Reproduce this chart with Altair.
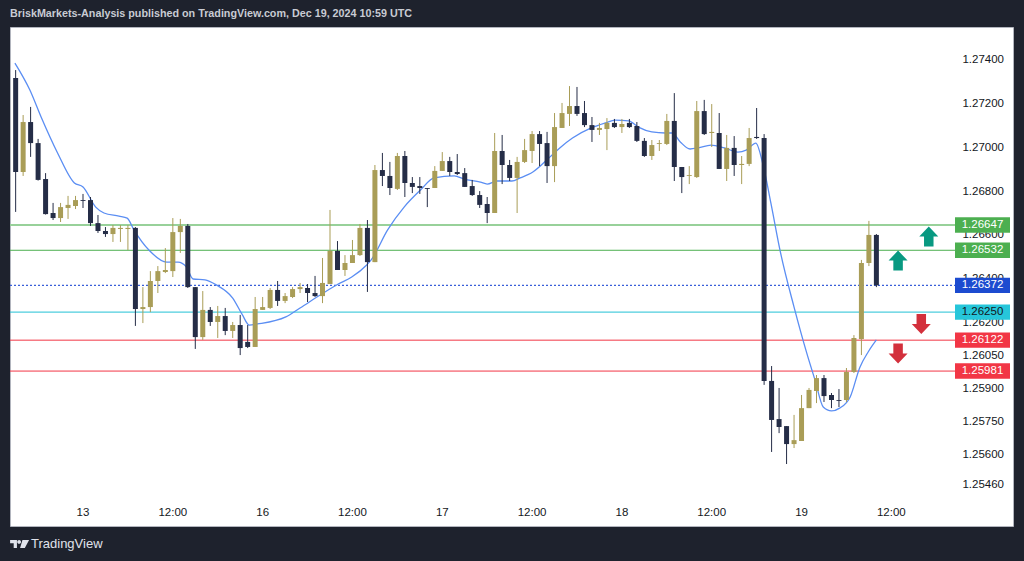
import altair as alt
import pandas as pd

# ---------------- data ----------------
first_bar = -9  # index of the left-most (partial) hourly candle; 0 = "13"

opens = [1.27318, 1.26889, 1.27117, 1.27021, 1.26857, 1.26702, 1.26679, 1.26725, 1.26734,
         1.26761, 1.26761, 1.26656, 1.26620, 1.26606, 1.26629, 1.26629, 1.26634, 1.26264, 1.26273,
         1.26392, 1.26433, 1.26437, 1.26615, 1.26643, 1.26364, 1.26136, 1.26260, 1.26205, 1.26232,
         1.26164, 1.26191, 1.26114, 1.26091, 1.26260, 1.26269, 1.26351, 1.26301, 1.26319, 1.26355,
         1.26360, 1.26337, 1.26323, 1.26378, 1.26529, 1.26442, 1.26474, 1.26510, 1.26634, 1.26478,
         1.26898, 1.26871, 1.26812, 1.26962, 1.26839, 1.26825, 1.26816, 1.26816, 1.26894, 1.26939,
         1.26889, 1.26884, 1.26825, 1.26784, 1.26743, 1.26702, 1.26985, 1.26921, 1.26862, 1.26935,
         1.26985, 1.27062, 1.27021, 1.26916, 1.27090, 1.27154, 1.27190, 1.27158, 1.27103, 1.27081,
         1.27085, 1.27113, 1.27094, 1.27113, 1.27099, 1.27031, 1.26962, 1.27017, 1.27017, 1.27122,
         1.26912, 1.26871, 1.26866, 1.27167, 1.27067, 1.27067, 1.26903, 1.26999, 1.26921, 1.26926,
         1.27049, 1.27044, 1.25936, 1.25762, 1.25730, 1.25648, 1.25662, 1.25812, 1.25890, 1.25949,
         1.25872, 1.25849, 1.25849, 1.25977, 1.26127, 1.26474, 1.26602]
highs = [1.27354, 1.27149, 1.27186, 1.27040, 1.26884, 1.26748, 1.26748, 1.26780, 1.26780,
         1.26789, 1.26775, 1.26693, 1.26638, 1.26647, 1.26647, 1.26647, 1.26638, 1.26364, 1.26437,
         1.26460, 1.26542, 1.26679, 1.26675, 1.26652, 1.26364, 1.26346, 1.26273, 1.26278, 1.26269,
         1.26205, 1.26237, 1.26191, 1.26319, 1.26319, 1.26360, 1.26392, 1.26337, 1.26364, 1.26383,
         1.26378, 1.26415, 1.26497, 1.26716, 1.26574, 1.26510, 1.26579, 1.26652, 1.26670, 1.26921,
         1.26976, 1.26935, 1.26976, 1.26985, 1.26866, 1.26866, 1.26816, 1.26916, 1.26980, 1.26958,
         1.26971, 1.26907, 1.26853, 1.26802, 1.26775, 1.27067, 1.27058, 1.26944, 1.26958, 1.27040,
         1.27076, 1.27076, 1.27072, 1.27158, 1.27204, 1.27281, 1.27277, 1.27213, 1.27140, 1.27113,
         1.27135, 1.27131, 1.27131, 1.27131, 1.27117, 1.27044, 1.27035, 1.27035, 1.27154, 1.27249,
         1.26912, 1.26916, 1.27213, 1.27218, 1.27199, 1.27158, 1.27058, 1.27053, 1.26962, 1.27090,
         1.27181, 1.27062, 1.26004, 1.25904, 1.25730, 1.25781, 1.25872, 1.25904, 1.25963, 1.25963,
         1.25881, 1.25899, 1.25995, 1.26145, 1.26488, 1.26666, 1.26606]
lows = [1.26707, 1.26871, 1.26958, 1.26850, 1.26695, 1.26670, 1.26661, 1.26675, 1.26720,
        1.26725, 1.26643, 1.26611, 1.26593, 1.26570, 1.26570, 1.26533, 1.26187, 1.26200, 1.26250,
        1.26337, 1.26428, 1.26410, 1.26520, 1.26360, 1.26082, 1.26123, 1.26187, 1.26132, 1.26145,
        1.26132, 1.26054, 1.26086, 1.26091, 1.26260, 1.26264, 1.26278, 1.26291, 1.26314, 1.26337,
        1.26296, 1.26319, 1.26291, 1.26378, 1.26442, 1.26415, 1.26474, 1.26506, 1.26342, 1.26478,
        1.26825, 1.26784, 1.26807, 1.26775, 1.26793, 1.26789, 1.26729, 1.26816, 1.26894, 1.26871,
        1.26875, 1.26821, 1.26780, 1.26725, 1.26656, 1.26702, 1.26834, 1.26848, 1.26702, 1.26930,
        1.26930, 1.26916, 1.26839, 1.26843, 1.27090, 1.27099, 1.27145, 1.27094, 1.27026, 1.27058,
        1.26989, 1.27090, 1.27067, 1.27090, 1.27026, 1.26958, 1.26944, 1.26985, 1.27012, 1.26848,
        1.26793, 1.26834, 1.26862, 1.27058, 1.27003, 1.26903, 1.26848, 1.26871, 1.26834, 1.26916,
        1.27040, 1.25918, 1.25612, 1.25698, 1.25557, 1.25630, 1.25662, 1.25812, 1.25835, 1.25840,
        1.25812, 1.25817, 1.25840, 1.25972, 1.26054, 1.26460, 1.26364]
closes = [1.26889, 1.27117, 1.27021, 1.26853, 1.26697, 1.26679, 1.26729, 1.26739, 1.26761,
          1.26757, 1.26656, 1.26620, 1.26606, 1.26634, 1.26634, 1.26634, 1.26264, 1.26273, 1.26392,
          1.26437, 1.26442, 1.26615, 1.26643, 1.26364, 1.26136, 1.26260, 1.26205, 1.26232, 1.26164,
          1.26191, 1.26086, 1.26091, 1.26264, 1.26273, 1.26351, 1.26301, 1.26323, 1.26355, 1.26364,
          1.26337, 1.26323, 1.26383, 1.26529, 1.26442, 1.26474, 1.26510, 1.26634, 1.26478, 1.26898,
          1.26871, 1.26816, 1.26962, 1.26839, 1.26821, 1.26816, 1.26812, 1.26894, 1.26939, 1.26889,
          1.26880, 1.26821, 1.26784, 1.26739, 1.26702, 1.26985, 1.26921, 1.26862, 1.26935, 1.26989,
          1.27062, 1.27017, 1.26916, 1.27094, 1.27158, 1.27190, 1.27154, 1.27103, 1.27081, 1.27090,
          1.27113, 1.27094, 1.27108, 1.27094, 1.27031, 1.26962, 1.27012, 1.27021, 1.27122, 1.26912,
          1.26866, 1.26875, 1.27167, 1.27062, 1.27072, 1.26903, 1.26999, 1.26921, 1.26926, 1.27044,
          1.27044, 1.25936, 1.25758, 1.25726, 1.25648, 1.25666, 1.25812, 1.25895, 1.25949, 1.25867,
          1.25849, 1.25845, 1.25977, 1.26132, 1.26474, 1.26602, 1.26372]

# moving average (blue line), read at bar positions
ma_index = [-9.1, -7.1, -5.6, -3.4, -1.15, 0, 1.7, 2.8, 4.8, 5.9, 6.8, 8.8, 11.2, 12.7, 13.8,
            14.7, 16.3, 17.8, 20, 21.3, 22.2, 23.3, 27.1, 29, 32.1, 34.1, 35.9, 37.9, 38.5,
            40.7, 42.9, 45.1, 46.9, 49.6, 50.9, 53.1, 54, 55.3, 57.3, 58.4, 60.1, 62.4, 63.7,
            65.4, 67.9, 69.8, 71.1, 72.9, 74.2, 76, 77.8, 78.7, 79.8, 81.1, 82.2, 83.9, 85.7,
            87.5, 88.6, 89.9, 90.8, 91.9, 93.2, 95, 96.7, 97.8, 98.9, 100, 101.1, 102.5, 103.8,
            104.9, 106]
ma_price = [1.27386, 1.27263, 1.27140, 1.26976, 1.26839, 1.26821, 1.26729, 1.26702, 1.26688,
            1.26679, 1.26625, 1.26533, 1.26478, 1.26478, 1.26456, 1.26401, 1.26397, 1.26374,
            1.26314, 1.26237, 1.26191, 1.26196, 1.26228, 1.26269, 1.26337, 1.26378, 1.26410,
            1.26465, 1.26488, 1.26625, 1.26729, 1.26807, 1.26862, 1.26871, 1.26857, 1.26843,
            1.26834, 1.26848, 1.26848, 1.26862, 1.26889, 1.26958, 1.26999, 1.27044, 1.27090,
            1.27113, 1.27126, 1.27122, 1.27094, 1.27072, 1.27067, 1.27067, 1.27026, 1.26994,
            1.26999, 1.27012, 1.26999, 1.26980, 1.26989, 1.27021, 1.26930, 1.26748, 1.26520,
            1.26273, 1.26063, 1.25940, 1.25817, 1.25799, 1.25812, 1.25863, 1.25999, 1.26068,
            1.26123]

level_prices = [1.26647, 1.26532, 1.26372, 1.26250, 1.26122, 1.25981]
level_line_colors = ["#98d19a", "#4caf50", "#3a5fd9", "#22c1d6", "#f23645", "#f23645"]
level_line_widths = [2, 1, 1.2, 1, 1, 1]
level_dotted = [False, False, True, False, False, False]
level_box_colors = ["#4caf50", "#4caf50", "#1c4bd0", "#26c6da", "#f23645", "#f23645"]
level_text_colors = ["#ffffff", "#ffffff", "#ffffff", "#131722", "#ffffff", "#ffffff"]

price_ticks = [1.27400, 1.27200, 1.27000, 1.26800, 1.26600, 1.26400, 1.26200, 1.26050,
               1.25900, 1.25750, 1.25600, 1.25460]
time_tick_index = [0, 12, 24, 36, 48, 60, 72, 84, 96, 108]
time_tick_labels = ["13", "12:00", "16", "12:00", "17", "12:00", "18", "12:00", "19", "12:00"]

arrow_index = [113.0, 108.9, 112.0, 108.9]
arrow_price = [1.26593, 1.26483, 1.26198, 1.26063]
arrow_dir = ["up", "up", "down", "down"]

title_text = "BriskMarkets-Analysis published on TradingView.com, Dec 19, 2024 10:59 UTC"

# ---------------- chart ----------------
W, H = 1003, 499
X_DOM = [-9.087, 123.585]
Y_DOM = [1.252743, 1.275505]
xs = alt.Scale(domain=X_DOM, nice=False, zero=False)
ys = alt.Scale(domain=Y_DOM, nice=False, zero=False)

UP = "#a99d57"
DOWN = "#252d47"

candles = pd.DataFrame({
    "i": list(range(first_bar, first_bar + len(opens))),
    "open": opens, "high": highs, "low": lows, "close": closes,
})
candles["col"] = [UP if c > o else DOWN for o, c in zip(opens, closes)]

base = alt.Chart(candles)
wicks = base.mark_rule(strokeWidth=1, clip=True).encode(
    x=alt.X("i:Q", scale=xs, axis=None),
    y=alt.Y("low:Q", scale=ys, axis=None),
    y2="high:Q",
    color=alt.Color("col:N", scale=None),
)
bodies = base.mark_bar(size=5, clip=True).encode(
    x=alt.X("i:Q", scale=xs, axis=None),
    y=alt.Y("open:Q", scale=ys, axis=None),
    y2="close:Q",
    color=alt.Color("col:N", scale=None),
)

ma_df = pd.DataFrame({"i": ma_index, "p": ma_price})
ma_line = alt.Chart(ma_df).mark_line(color="#5b8ef3", strokeWidth=1.3, clip=True,
                                     interpolate="monotone").encode(
    x=alt.X("i:Q", scale=xs, axis=None),
    y=alt.Y("p:Q", scale=ys, axis=None),
)

lv = pd.DataFrame({"p": level_prices, "lc": level_line_colors, "w": level_line_widths,
                   "dot": level_dotted, "bc": level_box_colors, "tc": level_text_colors})
solid_lines = alt.Chart(lv[~lv["dot"]]).mark_rule().encode(
    y=alt.Y("p:Q", scale=ys, axis=None),
    x=alt.value(0), x2=alt.value(945),
    color=alt.Color("lc:N", scale=None),
    strokeWidth=alt.StrokeWidth("w:Q", scale=None),
)
dotted_lines = alt.Chart(lv[lv["dot"]]).mark_rule(strokeDash=[2, 2]).encode(
    y=alt.Y("p:Q", scale=ys, axis=None),
    x=alt.value(0), x2=alt.value(945),
    color=alt.Color("lc:N", scale=None),
    strokeWidth=alt.StrokeWidth("w:Q", scale=None),
)

ticks_df = pd.DataFrame({"p": price_ticks})
price_labels = alt.Chart(ticks_df).mark_text(align="right", baseline="middle", fontSize=11.5,
                                             font="Liberation Sans", color="#131722").encode(
    y=alt.Y("p:Q", scale=ys, axis=None),
    x=alt.value(994),
    text=alt.Text("p:Q", format=".5f"),
)

time_df = pd.DataFrame({"i": time_tick_index, "t": time_tick_labels})
time_labels = alt.Chart(time_df).mark_text(align="center", baseline="middle", fontSize=11.5,
                                           font="Liberation Sans", color="#131722").encode(
    x=alt.X("i:Q", scale=xs, axis=None),
    y=alt.value(486),
    text="t:N",
)

box_shape = "M-1,-0.28H1V0.28H-1Z"
boxes = alt.Chart(lv).mark_point(shape=box_shape, size=3025, filled=True, opacity=1,
                                 strokeWidth=0).encode(
    y=alt.Y("p:Q", scale=ys, axis=None),
    x=alt.value(972.5),
    color=alt.Color("bc:N", scale=None),
)
box_text = alt.Chart(lv).mark_text(align="center", baseline="middle", fontSize=11.5,
                                   font="Liberation Sans").encode(
    y=alt.Y("p:Q", scale=ys, axis=None),
    x=alt.value(972.5),
    text=alt.Text("p:Q", format=".5f"),
    color=alt.Color("tc:N", scale=None),
)

up_shape = "M0,-1.1L1,-0.05L0.5,-0.05L0.5,1L-0.5,1L-0.5,-0.05L-1,-0.05Z"
down_shape = "M0,1.1L1,0.05L0.5,0.05L0.5,-1L-0.5,-1L-0.5,0.05L-1,0.05Z"
ar = pd.DataFrame({"i": arrow_index, "p": arrow_price, "d": arrow_dir})
up_arrows = alt.Chart(ar[ar["d"] == "up"]).mark_point(
    shape=up_shape, size=361, filled=True, opacity=1, color="#089981", strokeWidth=0).encode(
    x=alt.X("i:Q", scale=xs, axis=None), y=alt.Y("p:Q", scale=ys, axis=None))
down_arrows = alt.Chart(ar[ar["d"] == "down"]).mark_point(
    shape=down_shape, size=361, filled=True, opacity=1, color="#d3303c", strokeWidth=0).encode(
    x=alt.X("i:Q", scale=xs, axis=None), y=alt.Y("p:Q", scale=ys, axis=None))

title = alt.Chart(pd.DataFrame({"t": [title_text]})).mark_text(
    align="left", baseline="middle", fontSize=10.75, fontWeight="bold",
    font="Liberation Sans", color="#c8cbd3").encode(
    x=alt.value(0), y=alt.value(-13), text="t:N")

logo_shape = ("M-1,-0.42L-0.28,-0.42L-0.28,0.42L-0.62,0.42L-0.62,-0.08L-1,-0.08Z "
              "M-0.25,-0.22A0.2,0.2 0 1,0 0.15,-0.22A0.2,0.2 0 1,0 -0.25,-0.22Z "
              "M0.3,-0.42L1,-0.42L0.55,0.42L0.05,0.42Z")
logo = alt.Chart(pd.DataFrame({"t": ["TradingView"]})).mark_point(
    shape=logo_shape, size=361, filled=True, opacity=1, color="#e0e3eb", strokeWidth=0).encode(
    x=alt.value(9.6), y=alt.value(517))
logo_text = alt.Chart(pd.DataFrame({"t": ["TradingView"]})).mark_text(
    align="left", baseline="middle", fontSize=13, font="Liberation Sans",
    color="#e0e3eb").encode(x=alt.value(21), y=alt.value(517), text="t:N")

chart = alt.layer(
    solid_lines, dotted_lines, ma_line, wicks, bodies, price_labels, time_labels,
    boxes, box_text, up_arrows, down_arrows, title, logo, logo_text,
).properties(
    width=W, height=H,
    background="#1e222d",
    padding={"left": 10, "top": 27, "right": 11, "bottom": 35},
    autosize=alt.AutoSizeParams(type="none"),
).configure_view(fill="white", stroke="#b2b5be", strokeWidth=1)

chart.save("out.html", embed_options={"renderer": "svg", "actions": False})
